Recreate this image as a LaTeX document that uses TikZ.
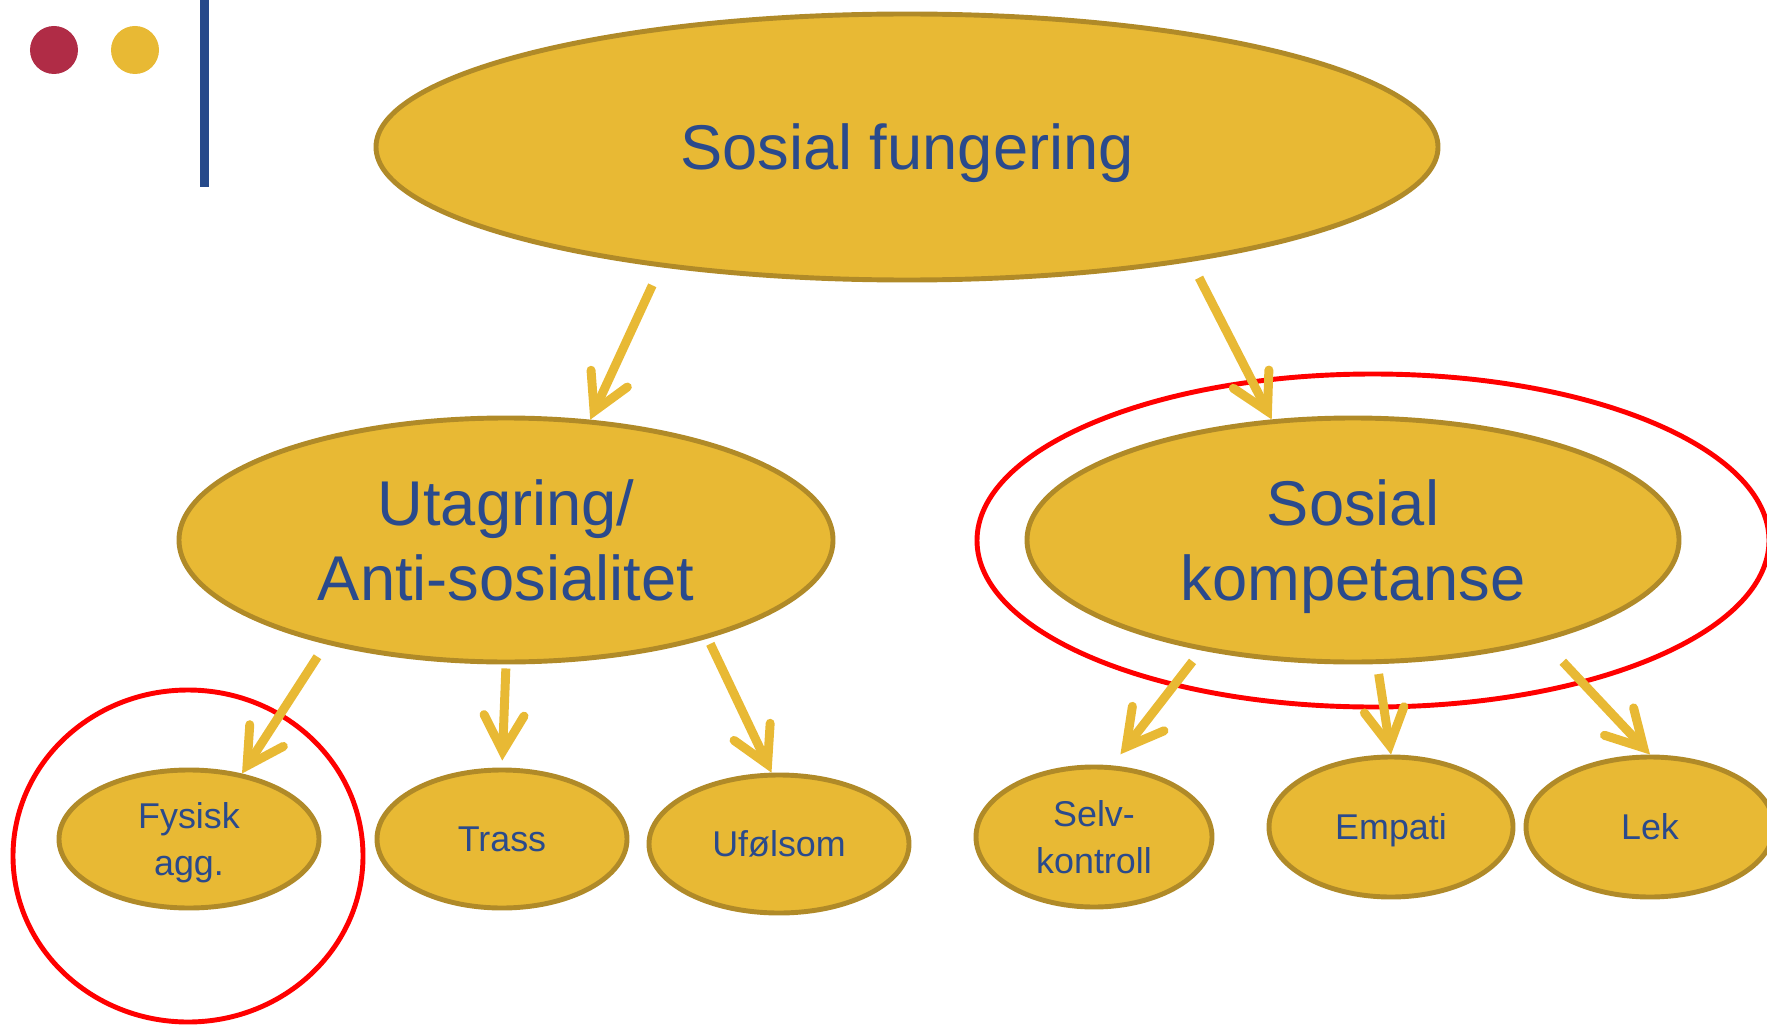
\documentclass[tikz,border=0pt]{standalone}
\usepackage{fontspec}
\setmainfont{Liberation Sans}
\usetikzlibrary{shapes, arrows.meta}

\definecolor{gold}{RGB}{232,185,52}
\definecolor{goldline}{RGB}{176,138,40}
\definecolor{textblue}{RGB}{42,74,140}
\definecolor{dotred}{RGB}{176,44,70}
\definecolor{barblue}{RGB}{38,73,138}

\begin{document}
\begin{tikzpicture}[
    bigblob/.style={ellipse, draw=goldline, line width=1.4pt, fill=gold, text=textblue, inner sep=0pt, text depth=0pt, align=center, font=\fontsize{18}{21.3}\selectfont},
    smallblob/.style={bigblob, font=\fontsize{10.2}{13.4}\selectfont},
    ring/.style={ellipse, draw=red, line width=1.4pt, inner sep=0pt},
    line/.style={draw=gold, line width=2.55pt, -{Straight Barb[length=3.6mm, width=4mm, line cap=round, line join=miter]}}
]
    \useasboundingbox (0,0) rectangle (17.67,-10.25);

    %% CORNER MARKS
    \fill [dotred] (0.54,-0.50) circle (0.24);
    \fill [gold] (1.35,-0.50) circle (0.24);
    \fill [barblue] (2.00,0) rectangle (2.09,-1.87);

    %% TOP LEVEL
    \node [bigblob, minimum width=10.62cm, minimum height=2.66cm] (top) at (9.07,-1.47) {Sosial fungering};

    %% SECOND LEVEL
    \node [bigblob, minimum width=6.54cm, minimum height=2.44cm] (uta) at (5.06,-5.40) {Utagring/\\Anti-sosialitet};
    \node [bigblob, minimum width=6.52cm, minimum height=2.44cm] (sk) at (13.53,-5.40) {Sosial\\kompetanse};

    %% THIRD LEVEL
    \node [smallblob, minimum width=2.60cm, minimum height=1.38cm] (fys) at (1.89,-8.39) {Fysisk\\agg.};
    \node [smallblob, minimum width=2.50cm, minimum height=1.38cm] (trass) at (5.02,-8.39) {Trass};
    \node [smallblob, minimum width=2.60cm, minimum height=1.38cm] (ufol) at (7.79,-8.44) {Ufølsom};
    \node [smallblob, minimum width=2.36cm, minimum height=1.40cm] (selv) at (10.94,-8.37) {Selv-\\kontroll};
    \node [smallblob, minimum width=2.44cm, minimum height=1.40cm] (emp) at (13.91,-8.27) {Empati};
    \node [smallblob, minimum width=2.48cm, minimum height=1.40cm] (lek) at (16.50,-8.27) {Lek};

    % Highlight rings
    \node [ring, minimum width=7.92cm, minimum height=3.33cm] (skring) at (13.73,-5.405) {};
    \node [ring, minimum width=3.50cm, minimum height=3.32cm] (fysring) at (1.88,-8.56) {};

    % Paths
    \path [line, shorten <=2mm] (top.206) -- (uta.55);
    \path [line, shorten <=1.8mm] (top.338) -- (sk.124);
    \path [line, shorten <=1.5mm] (uta.210) -- (fys.51);
    \path [line, shorten <=0.4mm, shorten >=0.7mm] (uta.south) -- (trass.north);
    \path [line, shorten <=0.6mm] (uta.334) -- (ufol.96);
    \path [line, shorten <=1.4mm, shorten >=1.4mm] (sk.216) -- (selv.76);
    \path [line, shorten <=1mm] (sk.281) -- (emp.north);
    \path [line, shorten <=2.8mm] (sk.332) -- (lek.north);

\end{tikzpicture}
\end{document}
